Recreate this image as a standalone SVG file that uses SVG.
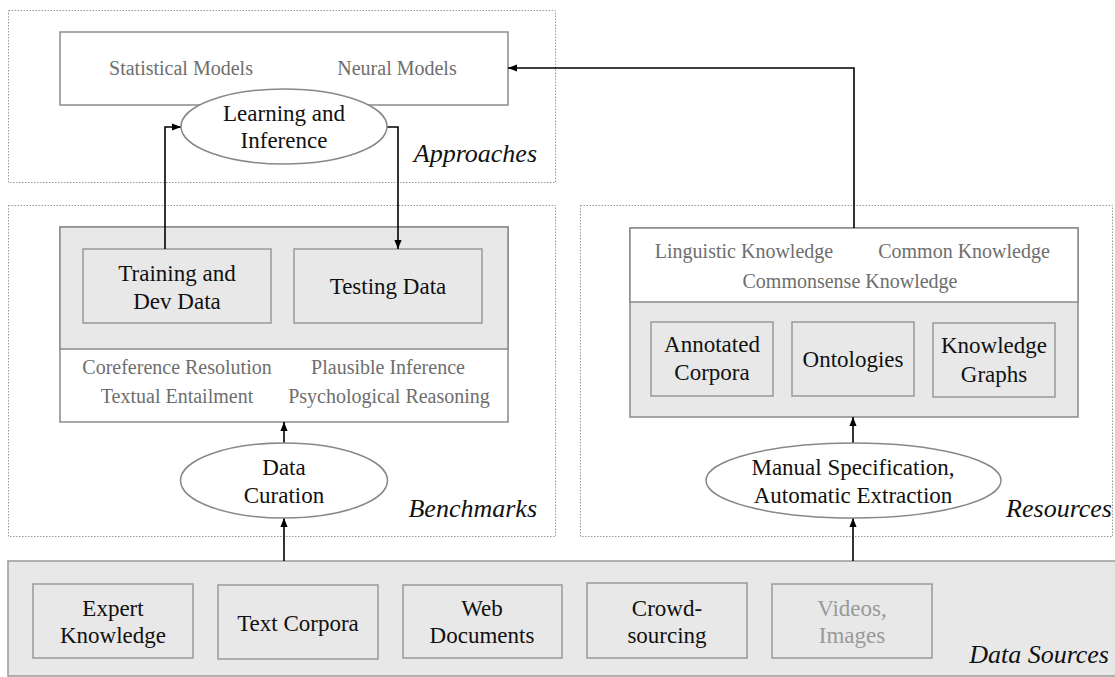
<svg xmlns="http://www.w3.org/2000/svg" width="1115" height="677" viewBox="0 0 1115 677">
<style>
text{font-family:"Liberation Serif","Times New Roman",serif;}
.zone{fill:none;stroke:#999;stroke-width:1;stroke-dasharray:1.5 1.5;}
.panel{stroke:#8a8a8a;stroke-width:1.5;}
.box{fill:#e8e8e8;stroke:#999;stroke-width:1.5;}
.ell{fill:#fff;stroke:#888;stroke-width:1.5;}
.lbl{font-size:23px;fill:#111;text-anchor:middle;}
.sub{font-size:20px;fill:#6e6e6e;text-anchor:middle;}
.zl{font-size:26px;font-style:italic;fill:#111;text-anchor:end;}
.conn{fill:none;stroke:#000;stroke-width:1.6;marker-end:url(#ah);}
</style>
<defs>
<marker id="ah" viewBox="0 0 10 8" refX="10" refY="4" markerWidth="9" markerHeight="8" markerUnits="userSpaceOnUse" orient="auto">
<path d="M0,0 L10,4 L0,8 z" fill="#000"/>
</marker>
</defs>
<g id="approaches">
<rect class="zone" x="8.5" y="10.5" width="547" height="172"/>
<rect class="panel" x="60" y="32" width="448" height="73" fill="#fff"/>
<text class="sub" x="181" y="75">Statistical Models</text>
<text class="sub" x="397" y="75">Neural Models</text>
<text class="zl" x="537" y="162">Approaches</text>
</g>
<g id="benchmarks">
<rect class="zone" x="8.5" y="205.5" width="547" height="331"/>
<rect class="panel" x="60" y="227" width="448" height="195" fill="#fff"/>
<rect x="60" y="227" width="448" height="122" fill="#e8e8e8" stroke="#8a8a8a" stroke-width="1.5"/>
<text class="sub" x="177" y="374">Coreference Resolution</text>
<text class="sub" x="388" y="374">Plausible Inference</text>
<text class="sub" x="177" y="403">Textual Entailment</text>
<text class="sub" x="389" y="403">Psychological Reasoning</text>
<text class="zl" x="537" y="517">Benchmarks</text>
</g>
<g id="training">
<rect class="box" x="83" y="249" width="188" height="74"/>
<text class="lbl" x="177" y="281">Training and</text>
<text class="lbl" x="177" y="309">Dev Data</text>
</g>
<g id="testing">
<rect class="box" x="294" y="249" width="188" height="74"/>
<text class="lbl" x="388" y="294">Testing Data</text>
</g>
<g id="resources">
<rect class="zone" x="580.5" y="205.5" width="532" height="331"/>
<rect class="panel" x="630" y="228" width="448" height="189" fill="#e8e8e8"/>
<rect x="630" y="228" width="448" height="74" fill="#fff" stroke="#8a8a8a" stroke-width="1.5"/>
<text class="sub" x="744" y="258">Linguistic Knowledge</text>
<text class="sub" x="964" y="258">Common Knowledge</text>
<text class="sub" x="850" y="288">Commonsense Knowledge</text>
<text class="zl" x="1112" y="517">Resources</text>
</g>
<g id="annotated">
<rect class="box" x="651" y="322" width="122" height="74"/>
<text class="lbl" x="712" y="352">Annotated</text>
<text class="lbl" x="712" y="380">Corpora</text>
</g>
<g id="ontologies">
<rect class="box" x="792" y="322" width="122" height="74"/>
<text class="lbl" x="853" y="367">Ontologies</text>
</g>
<g id="kg">
<rect class="box" x="933" y="323" width="122" height="74"/>
<text class="lbl" x="994" y="353">Knowledge</text>
<text class="lbl" x="994" y="382">Graphs</text>
</g>
<g id="datasources">
<rect x="8" y="561" width="1115" height="115" fill="#e8e8e8" stroke="#999" stroke-width="1.5"/>
<text class="zl" x="1109" y="663">Data Sources</text>
</g>
<g id="expert">
<rect class="box" x="33" y="584" width="160" height="74"/>
<text class="lbl" x="113" y="616">Expert</text>
<text class="lbl" x="113" y="643">Knowledge</text>
</g>
<g id="textcorpora">
<rect class="box" x="218" y="585" width="160" height="74"/>
<text class="lbl" x="298" y="631">Text Corpora</text>
</g>
<g id="web">
<rect class="box" x="403" y="585" width="159" height="73"/>
<text class="lbl" x="482" y="616">Web</text>
<text class="lbl" x="482" y="643">Documents</text>
</g>
<g id="crowd">
<rect class="box" x="587" y="583" width="160" height="75"/>
<text class="lbl" x="667" y="616">Crowd-</text>
<text class="lbl" x="667" y="643">sourcing</text>
</g>
<g id="videos">
<rect class="box" x="772" y="584" width="160" height="74"/>
<text class="lbl" x="852" y="616" fill="#999" style="fill:#999">Videos,</text>
<text class="lbl" x="852" y="643" style="fill:#999">Images</text>
</g>
<g id="connectors">
<path class="conn" d="M165,249 V127 H181"/>
<path class="conn" d="M387,127 H398 V249"/>
<path class="conn" d="M854,228 V68 H508"/>
<path class="conn" d="M284,443 V422"/>
<path class="conn" d="M284,561 V518"/>
<path class="conn" d="M853,443 V417"/>
<path class="conn" d="M853,561 V518"/>
</g>
<g id="learning">
<ellipse class="ell" cx="284" cy="126.5" rx="103" ry="37.5"/>
<text class="lbl" x="284" y="121">Learning and</text>
<text class="lbl" x="284" y="148">Inference</text>
</g>
<g id="curation">
<ellipse class="ell" cx="284" cy="480.5" rx="103.5" ry="37.5"/>
<text class="lbl" x="284" y="475">Data</text>
<text class="lbl" x="284" y="503">Curation</text>
</g>
<g id="manual">
<ellipse class="ell" cx="853.5" cy="480.5" rx="147.5" ry="37.5"/>
<text class="lbl" x="853" y="475">Manual Specification,</text>
<text class="lbl" x="853" y="503">Automatic Extraction</text>
</g>
</svg>
